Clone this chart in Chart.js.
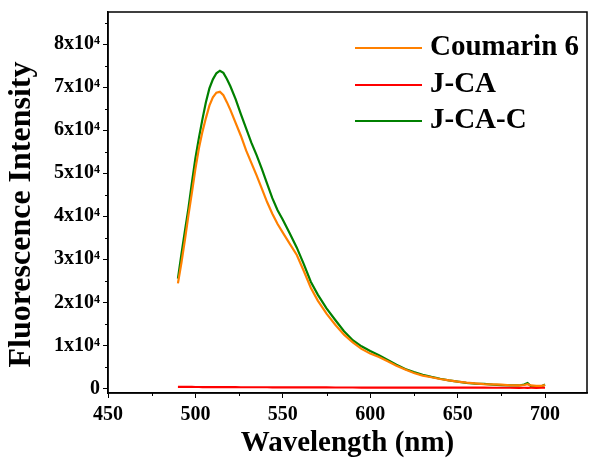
<!DOCTYPE html>
<html>
<head>
<meta charset="utf-8">
<script src="https://cdn.jsdelivr.net/npm/chart.js@4"></script>
<style>
  body { margin: 0; background: #fff; }
</style>
</head>
<body>
<canvas id="myChart" width="590" height="461"></canvas>
<script>
// wavelength (nm) shared by all three spectra
var wavelength = [490,492,494,496,498,500,502,504,506,508,510,512,514,516,518,520,523,526,529,532,535,538,541,544,547,550,554,558,562,566,570,575,580,585,590,595,600,605,610,615,620,625,630,635,640,645,650,655,660,665,670,675,680,685,688,690,692,695,698,700];

var coumarin6 = [24400,29200,34500,40200,45500,51000,55800,59600,62800,65700,67600,68700,68900,68100,66500,64700,61700,58700,55300,52400,49500,46400,43300,40600,38200,36200,33600,31000,27300,23400,20400,17400,14800,12500,10700,9200,8100,7300,6300,5300,4400,3600,3000,2600,2200,1900,1600,1350,1200,1000,950,900,750,700,800,1000,700,600,600,800];

var jca = [380,370,360,350,350,340,340,330,330,320,320,320,310,310,300,300,300,290,290,290,280,280,280,270,270,260,260,250,250,250,240,240,230,230,230,220,220,220,210,210,210,200,200,200,190,190,190,180,180,180,170,170,170,160,170,160,170,160,170,180];

var jcac = [25500,31200,36600,41800,47800,53500,58200,62500,66500,69700,71800,73200,73800,73300,71900,70200,67200,63700,60400,57100,54200,51000,47600,44200,41400,39200,36000,32700,28900,24800,21800,18600,15900,13300,11200,9800,8700,7700,6600,5500,4500,3800,3200,2700,2250,1900,1600,1300,1150,1050,900,800,700,700,900,1250,500,350,500,900];

var seriesNames = ["Coumarin 6", "J-CA", "J-CA-C"];
var seriesColors = ["#ff8000", "#ff0000", "#008000"];

// tick labels
var xTicks = [450, 500, 550, 600, 650, 700];
var yTicks = [0, 10000, 20000, 30000, 40000, 50000, 60000, 70000, 80000];

var xMin = 450, xMax = 724;
var yMin = -1050, yMax = 87440;

function points(ys) {
  return wavelength.map(function (w, i) { return {x: w, y: ys[i]}; });
}

var serif = "'Liberation Serif', 'Times New Roman', serif";

// frame, minor ticks and legend
var extras = {
  id: 'extras',
  afterDraw: function (chart) {
    var ctx = chart.ctx;
    var a = chart.chartArea;
    var xs = chart.scales.x, ys = chart.scales.y;
    ctx.save();
    ctx.strokeStyle = '#000';
    ctx.lineWidth = 1.5;
    ctx.strokeRect(a.left, a.top, a.right - a.left, a.bottom - a.top);

    ctx.lineWidth = 1;
    ctx.beginPath();
    yTicks.forEach(function (v) {
      var py = Math.round(ys.getPixelForValue(v + 5000)) + 0.5;
      if (v + 5000 < yMax) {
        ctx.moveTo(a.left - 3, py);
        ctx.lineTo(a.left, py);
      }
    });
    xTicks.forEach(function (w) {
      var px = Math.round(xs.getPixelForValue(w + 25)) + 0.5;
      if (w + 25 < xMax) {
        ctx.moveTo(px, a.bottom);
        ctx.lineTo(px, a.bottom + 3);
      }
    });
    ctx.stroke();

    // legend
    var rows = [48, 85, 121];
    ctx.font = 'bold 29px ' + serif;
    ctx.textBaseline = 'middle';
    ctx.fillStyle = '#000';
    chart.data.datasets.forEach(function (ds, i) {
      ctx.strokeStyle = ds.borderColor;
      ctx.lineWidth = 2;
      ctx.beginPath();
      ctx.moveTo(355, rows[i]);
      ctx.lineTo(422, rows[i]);
      ctx.stroke();
      ctx.fillText(ds.label, 430, rows[i]);
    });
    ctx.restore();
  }
};

new Chart("myChart", {
  type: "line",
  data: {
    datasets: [0, 1, 2].map(function (i) {
      return {
        label: seriesNames[i],
        data: points([coumarin6, jca, jcac][i]),
        borderColor: seriesColors[i],
        backgroundColor: seriesColors[i],
        borderWidth: 2.2,
        pointRadius: 0,
        tension: 0,
        fill: false
      };
    })
  },
  plugins: [extras],
  options: {
    responsive: false,
    animation: false,
    layout: {padding: {top: 12, right: 3, left: 0, bottom: 0}},
    plugins: {
      legend: {display: false},
      tooltip: {enabled: false}
    },
    scales: {
      x: {
        type: 'linear',
        min: xMin,
        max: xMax,
        afterFit: function (s) {
          s.height = 68;
          s.paddingLeft = 0;
          s.paddingRight = 0;
        },
        afterBuildTicks: function (s) {
          s.ticks = xTicks.map(function (v) { return {value: v}; });
        },
        ticks: {
          padding: 5,
          color: '#000',
          font: {family: serif, size: 20, weight: 'bold'}
        },
        grid: {drawOnChartArea: false, tickLength: 5, tickColor: '#000', tickWidth: 1},
        border: {color: '#000', width: 1.5},
        title: {
          display: true,
          text: 'Wavelength (nm)',
          color: '#000',
          font: {family: serif, size: 29, weight: 'bold'},
          padding: {top: 0, bottom: 0}
        }
      },
      y: {
        type: 'linear',
        min: yMin,
        max: yMax,
        afterFit: function (s) {
          s.width = 108;
          s.paddingTop = 0;
          s.paddingBottom = 0;
        },
        afterBuildTicks: function (s) {
          s.ticks = yTicks.map(function (v) { return {value: v}; });
        },
        ticks: {
          padding: 3,
          color: '#000',
          font: {family: serif, size: 20, weight: 'bold'},
          callback: function (v) {
            if (v === 0) return '0';
            return (v / 10000) + 'x10\u2074';
          }
        },
        grid: {drawOnChartArea: false, tickLength: 5, tickColor: '#000', tickWidth: 1},
        border: {color: '#000', width: 1.5},
        title: {
          display: true,
          text: 'Fluorescence Intensity   ',
          color: '#000',
          font: {family: serif, size: 32, weight: 'bold'},
          padding: {top: 3, bottom: 0}
        }
      }
    }
  }
});
</script>
</body>
</html>
